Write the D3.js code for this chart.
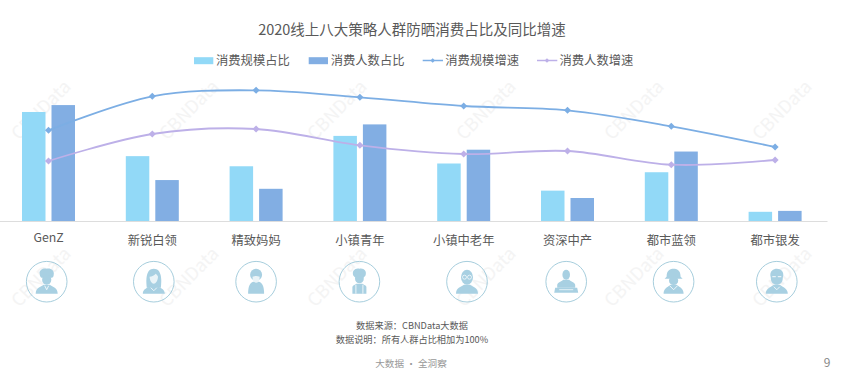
<!DOCTYPE html>
<html>
<head>
<meta charset="utf-8">
<script src="https://cdn.jsdelivr.net/npm/d3@7"></script>
<style>
  html, body { margin: 0; background: #fff; }
  text { font-family: "Noto Sans CJK SC", "Noto Sans", sans-serif; }
</style>
</head>
<body>
<div id="wrapper"></div>
<script>
/// Data ///
const categories = ["GenZ", "新锐白领", "精致妈妈", "小镇青年", "小镇中老年", "资深中产", "都市蓝领", "都市银发"];
const scaleShare = [23.7, 14.1, 11.9, 18.5, 12.5, 6.6, 10.6, 2.0];
const peopleShare = [25.2, 8.9, 7.0, 21.0, 15.5, 5.0, 15.1, 2.2];
// no axis in the picture, so growth is only relative
const scaleGrowth = [90.7, 124.7, 130.7, 123.7, 115, 110.7, 94.7, 74];
const peopleGrowth = [60, 87, 92, 75.7, 67, 70, 56.3, 61];
const barNames = ["消费规模占比", "消费人数占比"];
const lineNames = ["消费规模增速", "消费人数增速"];

/// Dimensions ///
const width = 857;
const height = 385;
const baseline = 221;
const textColour = "#595959";
const barColours = ["#92d9f7", "#82aee3"];
const lineColours = ["#7caee4", "#bdb0e8"];
const iconColour = "#a8d0e2";

const svg = d3.select("#wrapper").append("svg")
  .attr("width", width)
  .attr("height", height)
  .style("display", "block");

/// Watermark ///
svg.append("g").selectAll("text")
  .data(d3.cross([41, 189, 337, 486, 634, 782], [110, 277]))
  .join("text")
    .attr("transform", d => `translate(${d[0]},${d[1]}) rotate(-45)`)
    .attr("text-anchor", "middle")
    .attr("dy", "0.35em")
    .attr("font-size", 18)
    .attr("fill", "#f4f4f4")
    .text("CBNData");

/// Scales ///
const x = d3.scaleBand().domain(categories).range([-3.4, 827]);
const xInner = d3.scaleBand().domain(barNames).range([-26.5, 26.5]).paddingInner(0.2034);
const yShare = d3.scaleLinear().domain([0, 30]).range([baseline, baseline - 138]);
const yGrowth = d3.scaleLinear().domain([0, 100]).range([baseline, baseline - 100]);
const cx = d => x(d) + x.bandwidth() / 2;

/// Title ///
svg.append("text")
  .attr("x", 412).attr("y", 35)
  .attr("text-anchor", "middle")
  .attr("font-size", 14.5)
  .attr("fill", textColour)
  .text("2020线上八大策略人群防晒消费占比及同比增速");

/// Bars ///
[scaleShare, peopleShare].forEach((values, i) => {
  svg.append("g").selectAll("rect")
    .data(values)
    .join("rect")
      .attr("x", (d, j) => cx(categories[j]) + xInner(barNames[i]))
      .attr("y", d => yShare(d))
      .attr("width", xInner.bandwidth())
      .attr("height", d => baseline - yShare(d))
      .attr("fill", barColours[i]);
});

/// Axis ///
const xAxis = svg.append("g")
  .attr("transform", `translate(0,${baseline})`)
  .call(d3.axisBottom(x).tickSize(0).tickPadding(15.5));
xAxis.select(".domain").attr("stroke", "#dddddd").attr("stroke-width", 1.2);
xAxis.selectAll("text")
  .attr("font-size", 12.3)
  .attr("fill", textColour)
  .style("font-family", '"Noto Sans CJK SC", sans-serif');
// the first label sits a little higher in the original
xAxis.selectAll(".tick").filter(d => d === "GenZ").select("text").attr("dy", "0.46em");

/// Lines ///
const line = d3.line()
  .x((d, i) => cx(categories[i]))
  .y(d => yGrowth(d))
  .curve(d3.curveCatmullRom.alpha(0));
const diamond = d3.symbol().type(d3.symbolDiamond2);

[scaleGrowth, peopleGrowth].forEach((values, i) => {
  const g = svg.append("g");
  g.append("path")
    .attr("d", line(values))
    .attr("fill", "none")
    .attr("stroke", lineColours[i])
    .attr("stroke-width", 1.8);
  g.selectAll("path.mark")
    .data(values)
    .join("path")
      .attr("class", "mark")
      .attr("transform", (d, j) => `translate(${cx(categories[j])},${yGrowth(d)})`)
      .attr("d", diamond.size(32))
      .attr("fill", lineColours[i]);
});

/// Legend ///
const legend = svg.append("g").attr("font-size", 12.3).attr("fill", textColour);
const legendY = 60.5;
barNames.forEach((name, i) => {
  const lx = [194, 308.7][i];
  legend.append("rect")
    .attr("x", lx).attr("y", legendY - 3.3)
    .attr("width", 19.3).attr("height", 7)
    .attr("fill", barColours[i]);
  legend.append("text")
    .attr("x", lx + 22).attr("y", legendY).attr("dy", "0.36em")
    .text(name);
});
lineNames.forEach((name, i) => {
  const lx = [422.7, 537][i];
  legend.append("line")
    .attr("x1", lx).attr("x2", lx + 20.3)
    .attr("y1", legendY).attr("y2", legendY)
    .attr("stroke", lineColours[i])
    .attr("stroke-width", 1.5);
  legend.append("path")
    .attr("transform", `translate(${lx + 10},${legendY})`)
    .attr("d", diamond.size(14))
    .attr("fill", lineColours[i]);
  legend.append("text")
    .attr("x", lx + 22.5).attr("y", legendY).attr("dy", "0.36em")
    .text(name);
});

/// Persona icons ///
const shoulders = "M-11 12C-11 6-6 5-3 3L3 3C6 5 11 6 11 12Z";
const iconParts = [
  // GenZ: curly hair and glasses
  g => {
    g.append("path").attr("d", "M-7-8C-8-12-3-14 0-13C4-14 8-11 7-7C7-5 6-4 5-4L-5-4C-6-4-7-6-7-8Z");
    g.append("ellipse").attr("cy", -2).attr("rx", 4.6).attr("ry", 5);
    g.append("path").attr("d", shoulders);
    g.append("path").attr("d", "M-2 4L0 8L2 4").attr("stroke", "#fff").attr("fill", "none").attr("stroke-width", 0.8);
  },
  // 新锐白领: long hair
  g => {
    g.append("path").attr("d", "M-7 6C-8-2-8-13 0-13C8-13 8-2 7 6Z");
    g.append("path").attr("d", "M-11 12C-11 7-6 6-3 4L3 4C6 6 11 7 11 12Z");
    g.append("path").attr("d", "M-4.2-5C-2-5 1-7 2-8C3-7 4-6 4.2-5C4-1 2 2 0 2C-2 2-4-1-4.2-5Z").attr("fill", "#eaf4f8");
    g.append("path").attr("d", "M-3 6L0 9L3 6").attr("stroke", "#fff").attr("fill", "none").attr("stroke-width", 0.8);
  },
  // 精致妈妈: hair bun, square body
  g => {
    g.append("circle").attr("cy", -7).attr("r", 6);
    g.append("path").attr("d", "M-8 12C-8 4-6 1-3 0L3 0C6 1 8 4 8 12Z");
    g.append("path").attr("d", "M-3.6-5C-1-6 1-6 3.6-5C3.6-1 2 1 0 1C-2 1-3.6-1-3.6-5Z").attr("fill", "#eaf4f8");
  },
  // 小镇青年: tall hair and overalls
  g => {
    g.append("path").attr("d", "M-6-6C-8-11-4-14 0-13C4-14 8-11 6-6L4-4L-4-4Z");
    g.append("ellipse").attr("cy", -3).attr("rx", 4.4).attr("ry", 4.6);
    g.append("path").attr("d", "M-7 12L-7 5C-6 3-4 3-3 2L3 2C4 3 6 3 7 5L7 12Z");
    g.append("path").attr("d", "M-3.5 3L-3.5 12M3.5 3L3.5 12").attr("stroke", "#fff").attr("fill", "none").attr("stroke-width", 0.8);
  },
  // 小镇中老年: bald head, round glasses
  g => {
    g.append("ellipse").attr("cy", -4.5).attr("rx", 6).attr("ry", 7.5);
    g.append("path").attr("d", shoulders);
    g.append("path").attr("d", "M-4.5-4.5a2 2 0 1 0 4 0a2 2 0 1 0-4 0M.5-4.5a2 2 0 1 0 4 0a2 2 0 1 0-4 0").attr("stroke", "#fff").attr("fill", "none").attr("stroke-width", 0.7);
  },
  // 资深中产: figure behind a desk
  g => {
    g.append("ellipse").attr("cy", -7).attr("rx", 3.8).attr("ry", 5);
    g.append("path").attr("d", "M-9 6L-9 3C-8 0-5 0-3-2L3-2C5 0 8 0 9 3L9 6Z");
    g.append("path").attr("d", "M-11 6L11 6L12 11L-12 11Z");
    g.append("path").attr("d", "M-7 8L7 8").attr("stroke", "#fff").attr("stroke-width", 0.7);
  },
  // 都市蓝领: cap and collar
  g => {
    g.append("path").attr("d", "M-7-5C-7-12-3-13 0-13C3-13 7-12 7-5L9-3L-9-3Z");
    g.append("ellipse").attr("cy", -1).attr("rx", 4.6).attr("ry", 4.4);
    g.append("path").attr("d", "M-10 12C-10 7-7 6-3 3L3 3C7 6 10 7 10 12Z");
    g.append("path").attr("d", "M-4 4L0 8L4 4").attr("stroke", "#fff").attr("fill", "none").attr("stroke-width", 0.8);
  },
  // 都市银发: short hair and glasses
  g => {
    g.append("path").attr("d", "M-6-4C-8-11-3-13 0-13C4-13 8-10 6-4C6 1 3 3 0 3C-3 3-6 1-6-4Z");
    g.append("path").attr("d", "M-11 12C-11 7-7 6-3 3L3 3C7 6 11 7 11 12Z");
    g.append("path").attr("d", "M-4.5-5L-1-5M1-5L4.5-5").attr("stroke", "#fff").attr("stroke-width", 0.9);
    g.append("path").attr("d", "M-3 5L0 8L3 5").attr("stroke", "#fff").attr("fill", "none").attr("stroke-width", 0.8);
  }
];
const iconShift = [-1.8, 1.5, 0, -0.5, 3.3, -1.3, 2.3, 1.7];

categories.forEach((c, i) => {
  const g = svg.append("g")
    .attr("transform", `translate(${cx(c) + iconShift[i]},281.7)`);
  g.append("circle")
    .attr("r", 20.3)
    .attr("fill", "none")
    .attr("stroke", "#9cc7d8")
    .attr("stroke-width", 0.9);
  iconParts[i](g.append("g").attr("fill", iconColour));
});

/// Notes ///
const notes = [
  ["数据来源：CBNData大数据", 412, 329.3, 9.2, textColour],
  ["数据说明：所有人群占比相加为100%", 412, 343, 9.2, textColour],
  ["大数据 · 全洞察", 411, 367, 9.6, "#999999"]
];
svg.append("g").selectAll("text")
  .data(notes)
  .join("text")
    .attr("x", d => d[1])
    .attr("y", d => d[2])
    .attr("text-anchor", "middle")
    .attr("font-size", d => d[3])
    .attr("fill", d => d[4])
    .text(d => d[0]);

svg.append("text")
  .attr("x", 827).attr("y", 367)
  .attr("text-anchor", "middle")
  .attr("font-size", 12)
  .attr("fill", "#888888")
  .text("9");
</script>
</body>
</html>
